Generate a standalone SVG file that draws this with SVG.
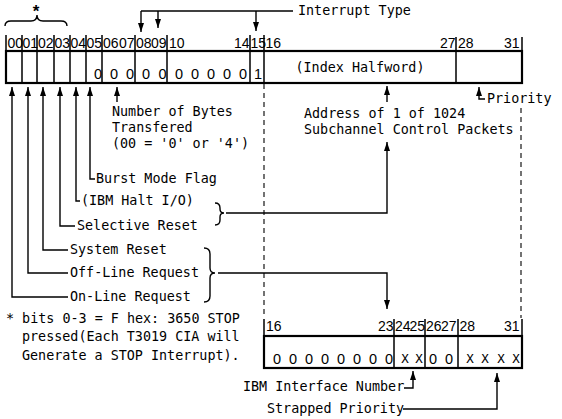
<svg xmlns="http://www.w3.org/2000/svg" width="562" height="419" viewBox="0 0 562 419">
  <style>
    .bg { fill: #ffffff; }
    .box { fill: none; stroke: #000; stroke-width: 2.2; }
    .div { stroke: #000; stroke-width: 1.5; fill: none; }
    .ln { stroke: #000; stroke-width: 1.4; fill: none; }
    .dash { stroke: #000; stroke-width: 1.1; stroke-dasharray: 5 4; fill: none; }
    .bit { font-family: "Liberation Sans", Arial, sans-serif; font-size: 14px; fill: #000; }
    .val { font-family: "Liberation Sans", Arial, sans-serif; font-size: 14.5px; fill: #000; text-anchor: middle; }
    .x { font-family: "DejaVu Sans Mono", "Liberation Mono", monospace; font-size: 12.5px; fill: #000; text-anchor: middle; }
    .t { font-family: "DejaVu Sans Mono", "Liberation Mono", monospace; font-size: 13.4px; fill: #000; }
  </style>
  <defs>
    <marker id="arrow" markerUnits="userSpaceOnUse" markerWidth="10" markerHeight="7" refX="9" refY="3" orient="auto">
      <path d="M0,0 L9,3 L0,6 z" fill="#000"/>
    </marker>
  </defs>
  <rect class="bg" x="0" y="0" width="562" height="419"/>

  <!-- upper interrupt word, bits 00-31 -->
  <g id="upper-register">
    <rect class="box" x="6" y="51" width="516" height="32"/>
    <path class="div" d="M6,35 V51 M522,37 V51 M22,35 V83 M37,35 V83 M54,35 V83 M70,35 V83 M86,35 V83 M102,35 V83 M135,35 V83 M167,35 V83 M250,35 V83 M264,35 V83 M456,37 V83"/>
    <text class="bit" x="7.5" y="48">00</text>
    <text class="bit" x="22.5" y="48">01</text>
    <text class="bit" x="38" y="48">02</text>
    <text class="bit" x="54.5" y="48">03</text>
    <text class="bit" x="70.5" y="48">04</text>
    <text class="bit" x="86.5" y="48">05</text>
    <text class="bit" x="103" y="48">06</text>
    <text class="bit" x="119" y="48">07</text>
    <text class="bit" x="136" y="48">08</text>
    <text class="bit" x="151" y="48">09</text>
    <text class="bit" x="169" y="48">10</text>
    <text class="bit" x="234" y="48">14</text>
    <text class="bit" x="250.5" y="48">15</text>
    <text class="bit" x="265.5" y="48">16</text>
    <text class="bit" x="440" y="48">27</text>
    <text class="bit" x="458" y="48">28</text>
    <text class="bit" x="504" y="48">31</text>
    <text class="val" x="98" y="79">0</text>
    <text class="val" x="114" y="79">0</text>
    <text class="val" x="130" y="79">0</text>
    <text class="val" x="146" y="79">0</text>
    <text class="val" x="162.5" y="79">0</text>
    <text class="val" x="179" y="79">0</text>
    <text class="val" x="195" y="79">0</text>
    <text class="val" x="211" y="79">0</text>
    <text class="val" x="227" y="79">0</text>
    <text class="val" x="243" y="79">0</text>
    <text class="val" x="258" y="79">1</text>
    <text class="t" x="360" y="72" text-anchor="middle">(Index Halfword)</text>
  </g>

  <!-- lower word, bits 16-31 -->
  <g id="lower-register">
    <rect class="box" x="264" y="336" width="258" height="32"/>
    <path class="div" d="M264,319 V336 M522,319 V336 M394,319 V368 M425,319 V368 M458,319 V368"/>
    <text class="bit" x="266" y="331">16</text>
    <text class="bit" x="378" y="331">23</text>
    <text class="bit" x="395" y="331">24</text>
    <text class="bit" x="409.5" y="331">25</text>
    <text class="bit" x="426" y="331">26</text>
    <text class="bit" x="441" y="331">27</text>
    <text class="bit" x="459.5" y="331">28</text>
    <text class="bit" x="504" y="331">31</text>
    <text class="val" x="277" y="364">0</text>
    <text class="val" x="293" y="364">0</text>
    <text class="val" x="309" y="364">0</text>
    <text class="val" x="325" y="364">0</text>
    <text class="val" x="341" y="364">0</text>
    <text class="val" x="357" y="364">0</text>
    <text class="val" x="373" y="364">0</text>
    <text class="val" x="389" y="364">0</text>
    <text class="x" x="405" y="363">X</text>
    <text class="x" x="419" y="363">X</text>
    <text class="val" x="433" y="364">0</text>
    <text class="val" x="449" y="364">0</text>
    <text class="x" x="470" y="363">X</text>
    <text class="x" x="485" y="363">X</text>
    <text class="x" x="501" y="363">X</text>
    <text class="x" x="516" y="363">X</text>
  </g>

  <!-- field labels -->
  <g id="stop-brace">
    <path class="ln" d="M5,26 Q5,21 11,21 L31,21 Q37,21 37,15 Q37,21 43,21 L61,21 Q67,21 67,26"/>
    <text x="36" y="17" text-anchor="middle" font-family="Liberation Sans, Arial, sans-serif" font-size="17" font-weight="bold">*</text>
  </g>
  <g id="interrupt-type"><text class="t" x="298" y="15">Interrupt Type</text></g>
  <g id="priority"><text class="t" x="487" y="103">Priority</text></g>
  <g id="bytes-transferred">
    <text class="t" x="112" y="116">Number of Bytes</text>
    <text class="t" x="112" y="132">Transfered</text>
    <text class="t" x="112" y="148">(00 = '0' or '4')</text>
  </g>
  <g id="address">
    <text class="t" x="304" y="118">Address of 1 of 1024</text>
    <text class="t" x="304" y="134">Subchannel Control Packets</text>
  </g>
  <g id="burst-mode"><text class="t" x="96" y="183">Burst Mode Flag</text></g>
  <g id="halt-io"><text class="t" x="81" y="205">(IBM Halt I/O)</text></g>
  <g id="selective-reset"><text class="t" x="77" y="230">Selective Reset</text></g>
  <g id="system-reset"><text class="t" x="70" y="254">System Reset</text></g>
  <g id="off-line"><text class="t" x="70" y="277">Off-Line Request</text></g>
  <g id="on-line"><text class="t" x="70" y="301">On-Line Request</text></g>
  <g id="footnote">
    <text class="t" x="6" y="323">* bits 0-3 = F hex: 3650 STOP</text>
    <text class="t" x="22" y="341">pressed(Each T3019 CIA will</text>
    <text class="t" x="22" y="360">Generate a STOP Interrupt).</text>
  </g>
  <g id="interface-number"><text class="t" x="243" y="391">IBM Interface Number</text></g>
  <g id="strapped-priority"><text class="t" x="267" y="413">Strapped Priority</text></g>

  <!-- connectors -->
  <g id="connectors">
    <!-- interrupt type bits 07, 09, 15 -->
    <path class="ln" d="M141,11 H293"/>
    <path class="ln" d="M141,11 V32" marker-end="url(#arrow)"/>
    <path class="ln" d="M158,11 V28" marker-end="url(#arrow)"/>
    <path class="ln" d="M256,11 V31" marker-end="url(#arrow)"/>

    <!-- bit flags below the upper word -->
    <path class="ln" d="M68,297 H12 V87" marker-end="url(#arrow)"/>
    <path class="ln" d="M68,273 H28 V87" marker-end="url(#arrow)"/>
    <path class="ln" d="M68,250 H43 V87" marker-end="url(#arrow)"/>
    <path class="ln" d="M75,226 H60 V87" marker-end="url(#arrow)"/>
    <path class="ln" d="M80,201 H76 V87" marker-end="url(#arrow)"/>
    <path class="ln" d="M95,179 H90 V87" marker-end="url(#arrow)"/>
    <path class="ln" d="M117,102 V87" marker-end="url(#arrow)"/>

    <!-- index halfword and priority -->
    <path class="ln" d="M387,102 V86" marker-end="url(#arrow)"/>
    <path class="ln" d="M485,99 H479 V87" marker-end="url(#arrow)"/>

    <!-- reset braces -->
    <path class="ln" d="M215,203 Q220,203 220,208 L220,209 Q220,213 224,213 Q220,213 220,217 L220,220 Q220,225 215,225"/>
    <path class="ln" d="M226,213 H387 V142" marker-end="url(#arrow)"/>
    <path class="ln" d="M204,248 Q210,248 210,254 L210,268 Q210,273 215,273 Q210,273 210,278 L210,296 Q210,302 204,302"/>
    <path class="ln" d="M218,273 H387 V309" marker-end="url(#arrow)"/>

    <!-- bits 16-31 carried to the lower word -->
    <path class="dash" d="M264,84 V318"/>
    <path class="dash" d="M521,108 V318"/>

    <!-- lower word fields -->
    <path class="ln" d="M404,388 H413 V371" marker-end="url(#arrow)"/>
    <path class="ln" d="M403,409 H497 V373" marker-end="url(#arrow)"/>
  </g>
</svg>
